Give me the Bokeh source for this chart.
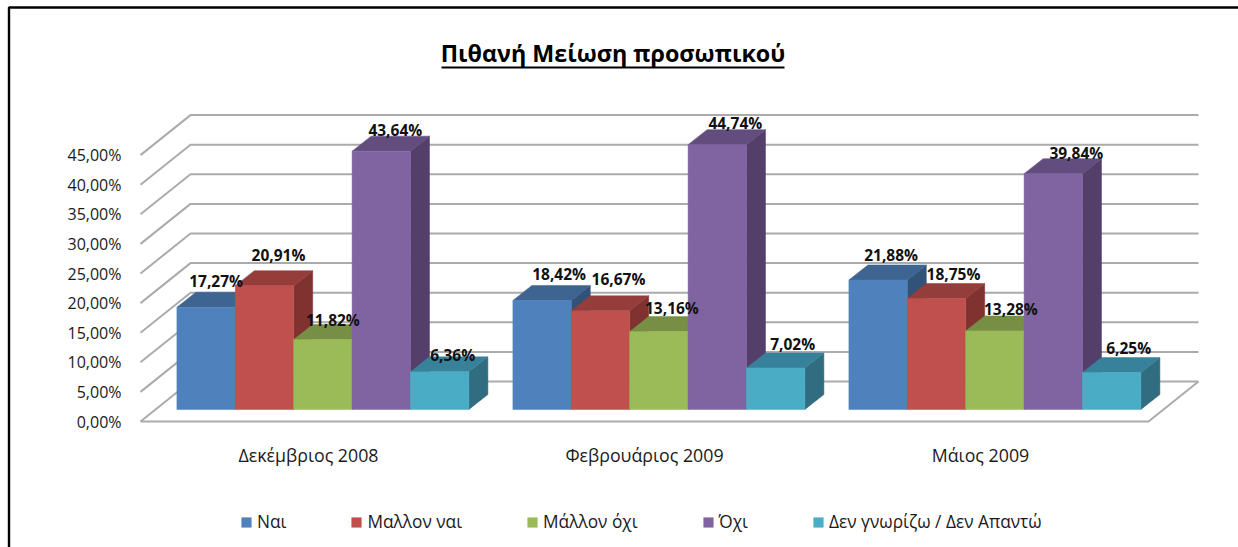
from bokeh.plotting import figure
from bokeh.embed import file_html
from bokeh.resources import INLINE
from bokeh.core.properties import value
from bokeh.models import (ColumnDataSource, FixedTicker, Label, Legend, LegendItem, Range1d)

categories = ["Δεκέμβριος 2008", "Φεβρουάριος 2009", "Μάιος 2009"]
series_names = ["Ναι", "Μαλλον ναι", "Μάλλον όχι", "Όχι", "Δεν γνωρίζω / Δεν Απαντώ"]
nai = [17.27, 18.42, 21.88]
mallon_nai = [20.91, 16.67, 18.75]
mallon_oxi = [11.82, 13.16, 13.28]
oxi = [43.64, 44.74, 39.84]
den_gnorizo = [6.36, 7.02, 6.25]
series_values = [nai, mallon_nai, mallon_oxi, oxi, den_gnorizo]
y_ticks = [0, 5, 10, 15, 20, 25, 30, 35, 40, 45]
title_text = "Πιθανή Μείωση προσωπικού"

front_colors = ["#4f81bd", "#c0504d", "#9bbb59", "#8064a2", "#4bacc6"]
top_colors = ["#3e6591", "#953d3b", "#778f45", "#634d7e", "#38819a"]
side_colors = ["#325277", "#7f3230", "#62763a", "#533f69", "#316d80"]
GRID = "#ababab"
FONT = "Open Sans"

# layout, pixels: the plot frame fills the page, the axes sit on data position 0
W, H = 1238, 547
ORIGIN_X, ORIGIN_Y = 140, 421                 # page pixel of x=0, y=0
CAT_PX, UNIT_PX = 336.0, 5.92                 # one category, one percentage point
xpx = lambda v: v / CAT_PX
ypx = lambda v: v / UNIT_PX
page_x = lambda v: (v - ORIGIN_X) / CAT_PX
page_y = lambda v: (ORIGIN_Y - v) / UNIT_PX
WALL_DX, WALL_DY = xpx(50), ypx(40)
BAR_SHIFT_X, BAR_SHIFT_Y = xpx(14.4), ypx(12)
BAR_DX, BAR_DY = xpx(19), ypx(15)
BAR_W = xpx(58.4)
BAR_MARGIN = (1 - 5 * BAR_W) / 2

# per label nudge from the bar's back-top-centre, pixels (series x category)
label_dx = [[10, 17, 13], [14, 18, 17], [10, 13, 16], [14, 18, 23], [13, 17, 17]]
label_dy = [[11, 11, 10], [16, 17, 10], [5, 9, 7], [6, 7, 6], [2, 9, 10]]

p = figure(width=W, height=H, output_backend="svg", toolbar_location=None,
           x_range=Range1d(page_x(0), page_x(W)),
           y_range=Range1d(page_y(H), page_y(0)),
           min_border=0)
p.outline_line_color = None
p.xgrid.visible = False
p.ygrid.visible = False

# picture border: top and left only
p.line([page_x(8.5), page_x(8.5), page_x(W)], [page_y(H), page_y(7), page_y(7)],
       line_color="#000000", line_width=2.4)

# walls and floor
n = len(categories)
for v in y_ticks:
    p.line([0, WALL_DX, n + WALL_DX], [v, v + WALL_DY, v + WALL_DY], line_color=GRID, line_width=2)
p.line([0, n, n + WALL_DX], [0, 0, WALL_DY], line_color=GRID, line_width=2)

# bars
legend_items = []
for s, vals in enumerate(series_values):
    left = [i + BAR_SHIFT_X + BAR_MARGIN + s * BAR_W for i in range(n)]
    right = [x + BAR_W for x in left]
    base = [BAR_SHIFT_Y] * n
    top = [BAR_SHIFT_Y + v for v in vals]
    p.patches([[r, r + BAR_DX, r + BAR_DX, r] for r in right],
              [[b, b + BAR_DY, t + BAR_DY, t] for b, t in zip(base, top)],
              fill_color=side_colors[s], line_color=side_colors[s], line_width=0.5)
    p.patches([[l, l + BAR_DX, r + BAR_DX, r] for l, r in zip(left, right)],
              [[t, t + BAR_DY, t + BAR_DY, t] for t in top],
              fill_color=top_colors[s], line_color=top_colors[s], line_width=0.5)
    r = p.quad(left=left, right=right, bottom=base, top=top,
               fill_color=front_colors[s], line_color=front_colors[s], line_width=0.5)
    legend_items.append(LegendItem(label=series_names[s], renderers=[r]))

# data labels, drawn last
for s, vals in enumerate(series_values):
    src = ColumnDataSource(dict(
        x=[i + BAR_SHIFT_X + BAR_MARGIN + (s + 0.5) * BAR_W for i in range(n)],
        y=[BAR_SHIFT_Y + BAR_DY + v for v in vals],
        t=[f"{v:.2f}%".replace(".", ",") for v in vals],
        dx=label_dx[s],
        dy=[-d for d in label_dy[s]],
    ))
    p.text(x="x", y="y", text="t", source=src, x_offset="dx", y_offset="dy",
           text_align="center", text_baseline="middle",
           text_font=value(FONT), text_font_size="15.5px", text_font_style="bold",
           text_color="#111111")

# axes
p.yaxis.fixed_location = 0
p.yaxis.ticker = FixedTicker(ticks=y_ticks)
p.yaxis.major_label_overrides = {v: f"{v:.2f}%".replace(".", ",") for v in y_ticks}
p.yaxis.axis_line_color = None
p.yaxis.major_tick_line_color = None
p.yaxis.minor_tick_line_color = None
p.yaxis.major_label_standoff = 13
p.yaxis.major_label_text_font = FONT
p.yaxis.major_label_text_font_size = "16px"
p.yaxis.major_label_text_color = "#1a1a1a"

x_ticks = [i + 0.5 for i in range(n)]
p.xaxis.fixed_location = 0
p.xaxis.ticker = FixedTicker(ticks=x_ticks)
p.xaxis.major_label_overrides = dict(zip(x_ticks, categories))
p.xaxis.axis_line_color = None
p.xaxis.major_tick_line_color = None
p.xaxis.minor_tick_line_color = None
p.xaxis.major_label_standoff = 15
p.xaxis.major_label_text_font = FONT
p.xaxis.major_label_text_font_size = "17.8px"
p.xaxis.major_label_text_color = "#1a1a1a"

# legend
legend = Legend(items=legend_items, orientation="horizontal", location=(240, 14),
                spacing=64, glyph_width=12, glyph_height=12, label_standoff=5,
                padding=0, margin=0, border_line_color=None, background_fill_alpha=0,
                label_text_font=FONT, label_text_font_size="17.3px",
                label_text_color="#1a1a1a")
p.add_layout(legend, "center")

# title and its underline
p.add_layout(Label(x=page_x(612.5), y=page_y(52), text=title_text,
                   text_align="center", text_baseline="middle",
                   text_font=FONT, text_font_size="23.3px", text_font_style="bold",
                   text_color="#000000"))
p.line([page_x(441), page_x(784)], [page_y(67), page_y(67)], line_color="#000000", line_width=2)

open("out.html", "w").write(file_html(p, INLINE))
